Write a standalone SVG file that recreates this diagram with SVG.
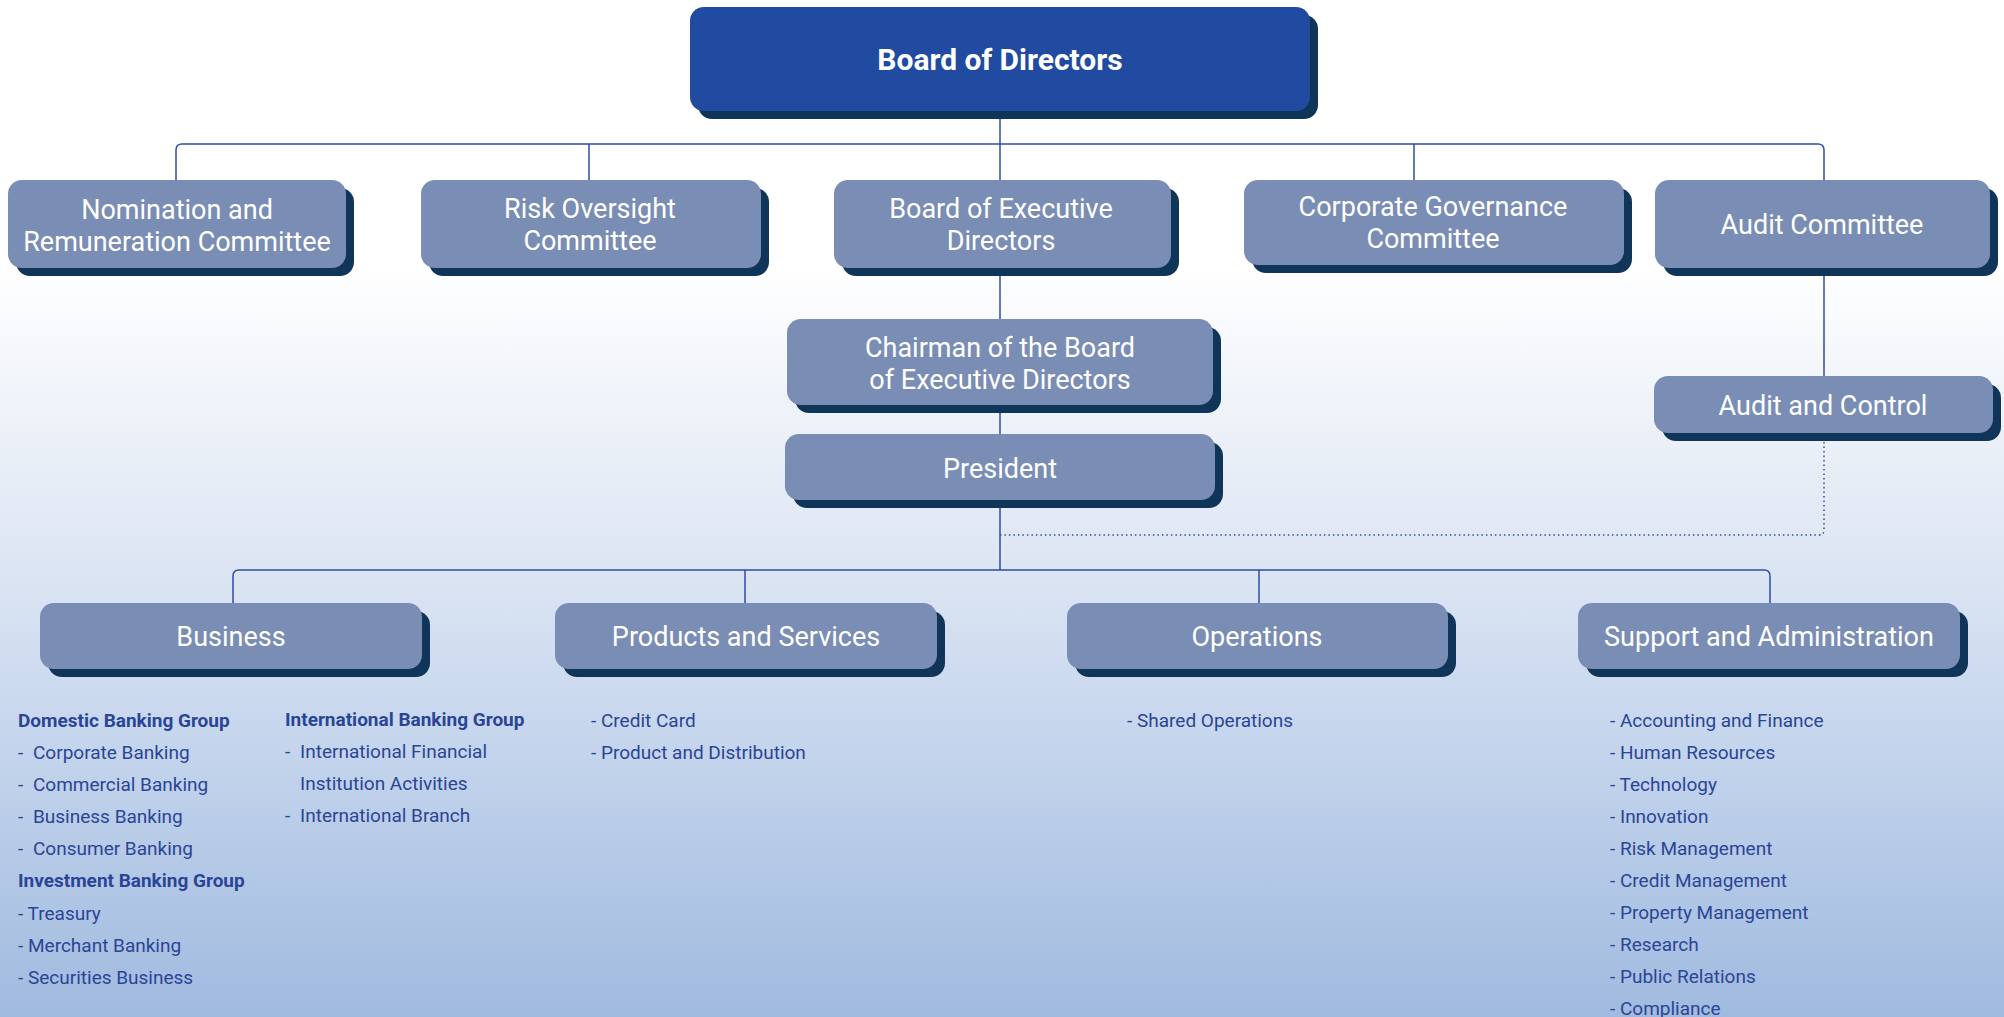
<svg xmlns="http://www.w3.org/2000/svg" width="2004" height="1017" viewBox="0 0 2004 1017">
<defs>
<linearGradient id="bg" x1="0" y1="0" x2="0" y2="1017" gradientUnits="userSpaceOnUse">
<stop offset="0" stop-color="#ffffff"/>
<stop offset="0.26" stop-color="#ffffff"/>
<stop offset="0.54" stop-color="#dfe7f4"/>
<stop offset="0.7" stop-color="#c9d8ee"/>
<stop offset="1" stop-color="#a0badf"/>
</linearGradient>
<style>
.sh{fill:#0f3558}
.bx{fill:#7a8db5}
.top{fill:#214ba0}
.lbl{font-family:Roboto,"Noto Sans",sans-serif;font-size:27px;fill:#ffffff;text-anchor:middle}
.tlbl{font-family:Roboto,"Noto Sans",sans-serif;font-size:30px;font-weight:bold;fill:#ffffff;text-anchor:middle}
.li{font-family:Roboto,"Noto Sans",sans-serif;font-size:19px;fill:#2b4596}
.hd{font-family:Roboto,"Noto Sans",sans-serif;font-size:19px;font-weight:bold;fill:#2b4596}
.ln{fill:none;stroke:#2d4ea3;stroke-width:1.5}
.dot{fill:none;stroke:#2d4ea3;stroke-width:1.5;stroke-dasharray:1.5 3}
</style>
</defs>
<rect x="0" y="0" width="2004" height="1017" fill="url(#bg)"/>

<g id="connectors">
<path class="ln" d="M176,180 V150 Q176,144 182,144 H1818 Q1824,144 1824,150 V180"/>
<path class="ln" d="M1000,111 V180"/>
<path class="ln" d="M589,144 V180"/>
<path class="ln" d="M1414,144 V180"/>
<path class="ln" d="M1000,268 V319"/>
<path class="ln" d="M1000,405 V434"/>
<path class="ln" d="M1000,500 V570"/>
<path class="ln" d="M1824,268 V376"/>
<path class="dot" d="M1824,433 V530 Q1824,535 1819,535 H1000"/>
<path class="ln" d="M233,603 V576 Q233,570 239,570 H1764 Q1770,570 1770,576 V603"/>
<path class="ln" d="M745,570 V603"/>
<path class="ln" d="M1259,570 V603"/>
</g>

<g id="board-of-directors">
<rect class="sh" x="698" y="15" width="620" height="104" rx="14"/>
<rect class="top" x="690" y="7" width="620" height="104" rx="14"/>
<text class="tlbl" x="1000" y="70">Board of Directors</text>
</g>

<g id="nomination-remuneration">
<rect class="sh" x="16" y="188" width="338" height="88" rx="14"/>
<rect class="bx" x="8" y="180" width="338" height="88" rx="14"/>
<text class="lbl" x="177" y="219">Nomination and</text>
<text class="lbl" x="177" y="251">Remuneration Committee</text>
</g>

<g id="risk-oversight">
<rect class="sh" x="429" y="188" width="340" height="88" rx="14"/>
<rect class="bx" x="421" y="180" width="340" height="88" rx="14"/>
<text class="lbl" x="590" y="218">Risk Oversight</text>
<text class="lbl" x="590" y="250">Committee</text>
</g>

<g id="board-executive-directors">
<rect class="sh" x="842" y="188" width="337" height="88" rx="14"/>
<rect class="bx" x="834" y="180" width="337" height="88" rx="14"/>
<text class="lbl" x="1001" y="218">Board of Executive</text>
<text class="lbl" x="1001" y="250">Directors</text>
</g>

<g id="corporate-governance">
<rect class="sh" x="1252" y="188" width="380" height="85" rx="14"/>
<rect class="bx" x="1244" y="180" width="380" height="85" rx="14"/>
<text class="lbl" x="1433" y="216">Corporate Governance</text>
<text class="lbl" x="1433" y="248">Committee</text>
</g>

<g id="audit-committee">
<rect class="sh" x="1663" y="188" width="335" height="88" rx="14"/>
<rect class="bx" x="1655" y="180" width="335" height="88" rx="14"/>
<text class="lbl" x="1822" y="234">Audit Committee</text>
</g>

<g id="chairman">
<rect class="sh" x="795" y="327" width="426" height="86" rx="14"/>
<rect class="bx" x="787" y="319" width="426" height="86" rx="14"/>
<text class="lbl" x="1000" y="357">Chairman of the Board</text>
<text class="lbl" x="1000" y="389">of Executive Directors</text>
</g>

<g id="president">
<rect class="sh" x="793" y="442" width="430" height="66" rx="14"/>
<rect class="bx" x="785" y="434" width="430" height="66" rx="14"/>
<text class="lbl" x="1000" y="478">President</text>
</g>

<g id="audit-and-control">
<rect class="sh" x="1662" y="384" width="339" height="57" rx="14"/>
<rect class="bx" x="1654" y="376" width="339" height="57" rx="14"/>
<text class="lbl" x="1823" y="415">Audit and Control</text>
</g>

<g id="business">
<rect class="sh" x="48" y="611" width="382" height="66" rx="14"/>
<rect class="bx" x="40" y="603" width="382" height="66" rx="14"/>
<text class="lbl" x="231" y="646">Business</text>
</g>

<g id="products-services">
<rect class="sh" x="563" y="611" width="382" height="66" rx="14"/>
<rect class="bx" x="555" y="603" width="382" height="66" rx="14"/>
<text class="lbl" x="746" y="646">Products and Services</text>
</g>

<g id="operations">
<rect class="sh" x="1075" y="611" width="381" height="66" rx="14"/>
<rect class="bx" x="1067" y="603" width="381" height="66" rx="14"/>
<text class="lbl" x="1257" y="646">Operations</text>
</g>

<g id="support-administration">
<rect class="sh" x="1586" y="611" width="382" height="66" rx="14"/>
<rect class="bx" x="1578" y="603" width="382" height="66" rx="14"/>
<text class="lbl" x="1769" y="646">Support and Administration</text>
</g>

<g id="business-list">
<text class="hd" x="18" y="727">Domestic Banking Group</text>
<text class="li" x="18" y="759">- <tspan x="33">Corporate Banking</tspan></text>
<text class="li" x="18" y="791">- <tspan x="33">Commercial Banking</tspan></text>
<text class="li" x="18" y="823">- <tspan x="33">Business Banking</tspan></text>
<text class="li" x="18" y="855">- <tspan x="33">Consumer Banking</tspan></text>
<text class="hd" x="18" y="887">Investment Banking Group</text>
<text class="li" x="18" y="920">- Treasury</text>
<text class="li" x="18" y="952">- Merchant Banking</text>
<text class="li" x="18" y="984">- Securities Business</text>
<text class="hd" x="285" y="726">International Banking Group</text>
<text class="li" x="285" y="758">- <tspan x="300">International Financial</tspan></text>
<text class="li" x="300" y="790">Institution Activities</text>
<text class="li" x="285" y="822">- <tspan x="300">International Branch</tspan></text>
</g>

<g id="products-list">
<text class="li" x="591" y="727">- Credit Card</text>
<text class="li" x="591" y="759">- Product and Distribution</text>
</g>

<g id="operations-list">
<text class="li" x="1127" y="727">- Shared Operations</text>
</g>

<g id="support-list">
<text class="li" x="1610" y="727">- Accounting and Finance</text>
<text class="li" x="1610" y="759">- Human Resources</text>
<text class="li" x="1610" y="791">- Technology</text>
<text class="li" x="1610" y="823">- Innovation</text>
<text class="li" x="1610" y="855">- Risk Management</text>
<text class="li" x="1610" y="887">- Credit Management</text>
<text class="li" x="1610" y="919">- Property Management</text>
<text class="li" x="1610" y="951">- Research</text>
<text class="li" x="1610" y="983">- Public Relations</text>
<text class="li" x="1610" y="1015">- Compliance</text>
</g>
</svg>
